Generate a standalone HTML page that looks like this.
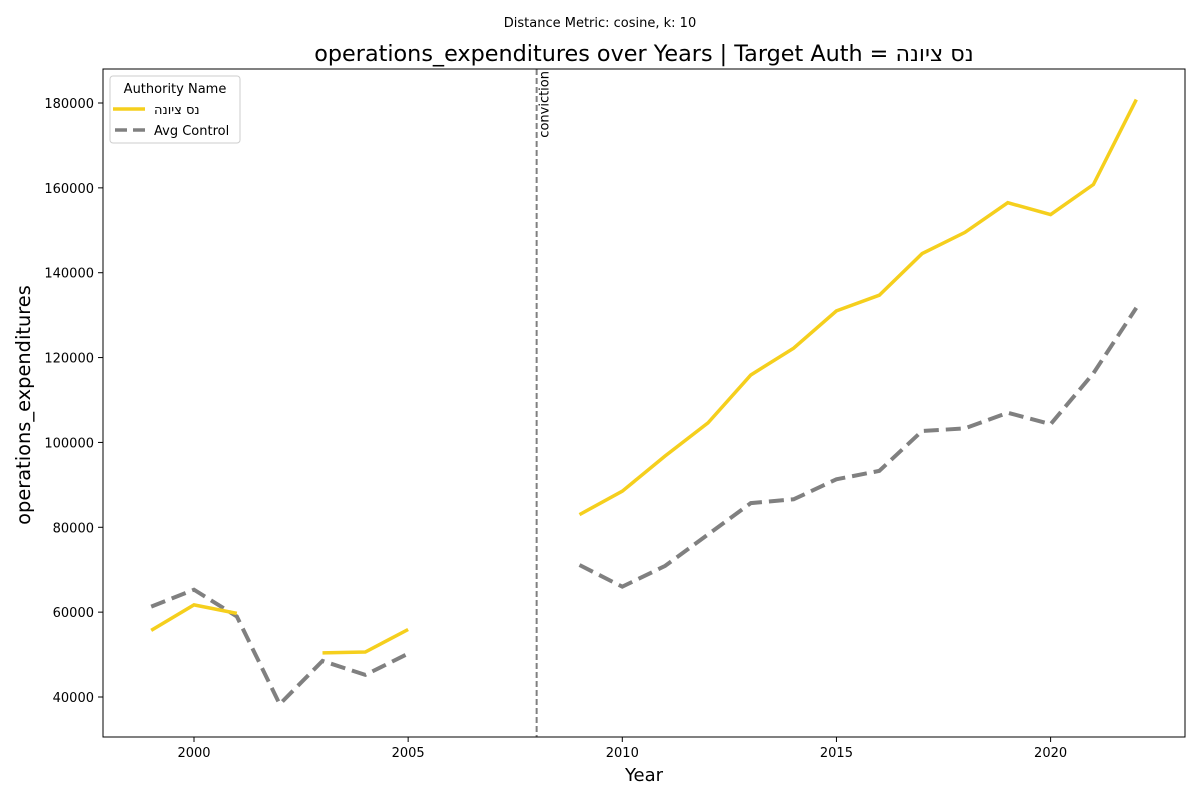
<!DOCTYPE html>
<html><head><meta charset="utf-8"><style>
body{margin:0;background:#fff;font-family:"Liberation Sans","DejaVu Sans",sans-serif}
svg text{font-family:"DejaVu Sans","Liberation Sans",sans-serif}
</style></head><body>
<svg id="chart" width="1200" height="800" xmlns="http://www.w3.org/2000/svg">
<rect width="1200" height="800" fill="#fff"/>
<text x="600" y="27" text-anchor="middle" font-size="13">Distance Metric: cosine, k: 10</text>
<text x="644" y="61" text-anchor="middle" font-size="22.3">operations_expenditures over Years | Target Auth = נס ציונה</text>
<g id="plot"></g>
<rect x="103" y="69" width="1082" height="668" fill="none" stroke="#000" stroke-width="1"/>
<text x="644" y="781" text-anchor="middle" font-size="18">Year</text>
<text transform="translate(30,405) rotate(-90)" text-anchor="middle" font-size="19.4">operations_expenditures</text>
<g>
<rect x="110" y="76" width="130" height="67" rx="3" fill="#fff" stroke="#ccc" opacity="0.95"/>
<text x="175" y="93" text-anchor="middle" font-size="13">Authority Name</text>
<line x1="113" y1="109" x2="145" y2="109" stroke="#f5cf1d" stroke-width="3.5"/>
<text x="154" y="114" font-size="13">נס ציונה</text>
<line x1="115" y1="130" x2="145" y2="130" stroke="#808080" stroke-width="3.5" stroke-dasharray="12,6"/>
<text x="154" y="135" font-size="13">Avg Control</text>
</g>
</svg>
<script>
const years=[1999,2000,2001,2002,2003,2004,2005,2006,2007,2008,2009,2010,2011,2012,2013,2014,2015,2016,2017,2018,2019,2020,2021,2022];
const target=[55700,61700,59700,null,50400,50600,55900,null,null,null,83000,88500,96800,104600,115900,122200,131000,134700,144500,149500,156500,153700,160800,180800];
const control=[61300,65300,59000,38300,48500,45200,50200,null,null,null,71100,66000,70900,78300,85700,86600,91300,93300,102700,103300,107000,104300,116300,131700];
const xTicks=[2000,2005,2010,2015,2020];
const yTicks=[40000,60000,80000,100000,120000,140000,160000,180000];
const eventYear=2008;
const NS="http://www.w3.org/2000/svg";
const X=y=>194+(y-2000)*42.83;
const Y=v=>697-(v-40000)*(594/140000);
const g=document.getElementById('plot');
function mk(t,a){const e=document.createElementNS(NS,t);for(const k in a)e.setAttribute(k,a[k]);g.appendChild(e);return e;}
xTicks.forEach(t=>{
 const l=mk('line',{x1:X(t),x2:X(t),y1:737,y2:742,stroke:'#000'});
 
 
 const tx=mk('text',{x:X(t),y:757,'text-anchor':'middle','font-size':13});tx.textContent=t;
 
 
});
yTicks.forEach(t=>{
 const l=mk('line',{x1:98,x2:103,y1:Y(t),y2:Y(t),stroke:'#000'});
 
 
 const tx=mk('text',{x:94,y:Y(t)+5,'text-anchor':'end','font-size':13});tx.textContent=t;
 
 
});
const vl=mk('line',{x1:X(eventYear),x2:X(eventYear),y1:69,y2:737,stroke:'#808080','stroke-width':2,'stroke-dasharray':'6,3'});


const vt=mk('text',{transform:`translate(${X(eventYear)+12},71) rotate(-90)`,'text-anchor':'end','font-size':13});vt.textContent='conviction';


function path(vals){let d='',pen=false;vals.forEach((v,i)=>{if(v==null){pen=false;return;}d+=(pen?'L':'M')+X(years[i]).toFixed(1)+','+Y(v).toFixed(1);pen=true;});return d;}
const pc=mk('path',{d:path(control),fill:'none',stroke:'#808080','stroke-width':4,'stroke-dasharray':'15,7'});


const pt=mk('path',{d:path(target),fill:'none',stroke:'#f5cf1d','stroke-width':3.5});


</script>
</body></html>
